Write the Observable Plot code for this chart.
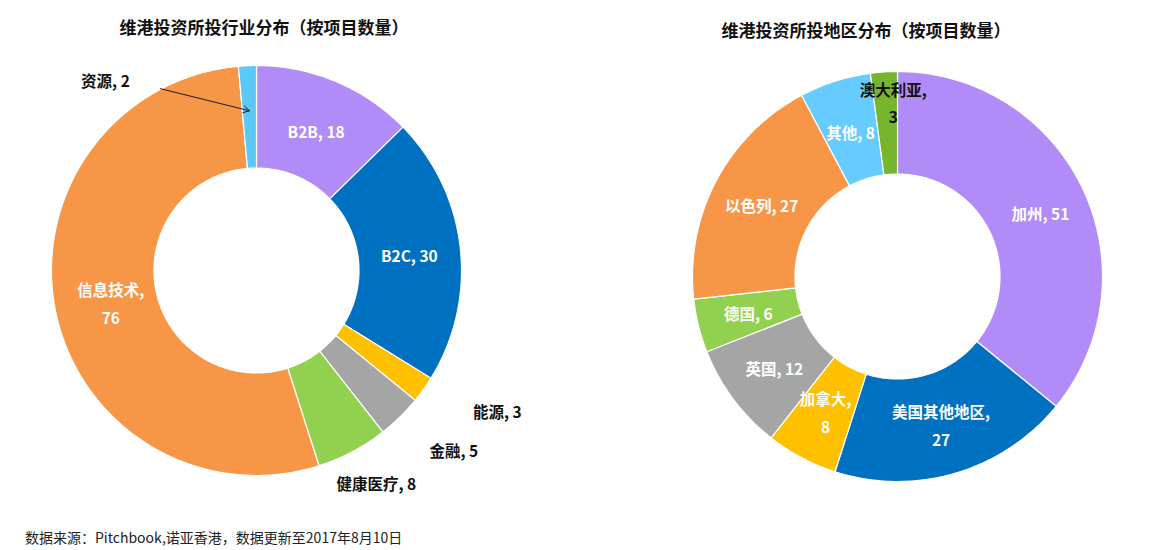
<!DOCTYPE html>
<html>
<head>
<meta charset="utf-8">
<script src="https://cdn.jsdelivr.net/npm/d3@7"></script>
<script src="https://cdn.jsdelivr.net/npm/@observablehq/plot@0.6"></script>
<style>
  body { margin: 0; background: #fff; }
  #page { position: relative; width: 1168px; height: 550px; overflow: hidden; font-family: "Noto Sans CJK SC", "Noto Sans", sans-serif; }
  .title { position: absolute; font-weight: bold; font-size: 17px; line-height: 20px; color: #111; white-space: nowrap; transform: translateX(-50%); }
  .caption { position: absolute; left: 25px; top: 528px; font-size: 14px; line-height: 18px; color: #222; white-space: nowrap; }
  .chart { position: absolute; top: 50px; width: 584px; height: 470px; }
</style>
</head>
<body>
<div id="page">
  <div class="title" style="left:264px; top:17px;">维港投资所投行业分布（按项目数量）</div>
  <div class="title" style="left:866px; top:20px;">维港投资所投地区分布（按项目数量）</div>
  <div class="chart" id="left" style="left:0px;"></div>
  <div class="chart" id="right" style="left:584px;"></div>
  <div class="caption">数据来源：Pitchbook,诺亚香港，数据更新至2017年8月10日</div>
</div>
<script>
// ---- data ----
const industryCats = ["B2B", "B2C", "能源", "金融", "健康医疗", "信息技术", "资源"];
const industryVals = [18, 30, 3, 5, 8, 76, 2];
const industryColors = ["#B18CF8", "#0070C0", "#FFC000", "#A5A5A5", "#92D050", "#F79646", "#5BC8F5"];

const regionCats = ["加州", "美国其他地区", "加拿大", "英国", "德国", "以色列", "其他", "澳大利亚"];
const regionVals = [51, 27, 8, 12, 6, 27, 8, 3];
const regionColors = ["#B18CF8", "#0070C0", "#FFC000", "#A5A5A5", "#92D050", "#F79646", "#66CCFF", "#77B52F"];

// ---- label layout (radius as fraction of outer radius, pixel nudges, colour, line break) ----
const industryLabelLayout = [
  {r: 0.75, dx: 0, dy: 0, dark: false, br: false},
  {r: 0.75, dx: 0, dy: 0, dark: false, br: false},
  {r: 1.0, dx: 74, dy: 20, dark: true, br: false},
  {r: 1.0, dx: 54, dy: 31, dark: true, br: false},
  {r: 1.0, dx: 24, dy: 30, dark: true, br: false},
  {r: 0.75, dx: 5, dy: 0, dark: false, br: true},
  {r: 1.0, dx: -142, dy: 13, dark: true, br: false, arrow: {sx: 55, sy: 10, r: 0.78}}
];
const regionLabelLayout = [
  {r: 0.75, dx: 4, dy: 0, dark: false, br: false},
  {r: 0.75, dx: 0, dy: -1, dark: false, br: true},
  {r: 0.75, dx: 0, dy: -2, dark: false, br: true},
  {r: 0.75, dx: 0, dy: -2, dark: false, br: false},
  {r: 0.75, dx: 0, dy: -2, dark: false, br: false},
  {r: 0.75, dx: 0, dy: -2, dark: false, br: false},
  {r: 0.75, dx: 0, dy: 0, dark: false, br: false},
  {r: 0.75, dx: 6, dy: -22, dark: true, br: true}
];

const R_PX = 205;       // outer radius in pixels (for converting nudges)
const INNER = 0.5;      // inner radius fraction

function donut(cats, vals, colors, layout, margins) {
  const pie = d3.pie().sort(null).value(d => d.v)(cats.map((c, i) => ({c, v: vals[i]})));
  const polys = [];
  pie.forEach(p => {
    const n = Math.max(2, Math.ceil((p.endAngle - p.startAngle) / (Math.PI / 180)));
    const pts = [];
    for (let k = 0; k <= n; k++) {
      const a = p.startAngle + (p.endAngle - p.startAngle) * k / n;
      pts.push({cat: p.data.c, x: Math.sin(a), y: Math.cos(a)});
    }
    for (let k = n; k >= 0; k--) {
      const a = p.startAngle + (p.endAngle - p.startAngle) * k / n;
      pts.push({cat: p.data.c, x: INNER * Math.sin(a), y: INNER * Math.cos(a)});
    }
    pts.push({...pts[0]});
    polys.push(...pts);
  });
  const labels = pie.map((p, i) => {
    const L = layout[i];
    const mid = (p.startAngle + p.endAngle) / 2;
    return {
      text: p.data.c + "," + (L.br ? "\n" : " ") + p.data.v,
      x: L.r * Math.sin(mid) + L.dx / R_PX,
      y: L.r * Math.cos(mid) - L.dy / R_PX,
      dark: L.dark,
      arrow: L.arrow ? {
        x1: L.r * Math.sin(mid) + (L.dx + L.arrow.sx) / R_PX,
        y1: L.r * Math.cos(mid) - (L.dy + L.arrow.sy) / R_PX,
        x2: L.arrow.r * Math.sin(mid),
        y2: L.arrow.r * Math.cos(mid)
      } : null
    };
  });
  const arrows = labels.filter(d => d.arrow).map(d => d.arrow);
  return Plot.plot({
    width: 584,
    height: 470,
    ...margins,
    x: {domain: [-1, 1], axis: null},
    y: {domain: [-1, 1], axis: null},
    color: {domain: cats, range: colors},
    style: {fontFamily: '"Noto Sans CJK SC", "Noto Sans", sans-serif', background: "transparent", overflow: "visible"},
    marks: [
      Plot.line(polys, {x: "x", y: "y", z: "cat", fill: "cat", stroke: "white", strokeWidth: 1.2, curve: "linear"}),
      Plot.text(labels.filter(d => !d.dark), {x: "x", y: "y", text: "text", fill: "white", fontSize: 15.5, fontWeight: "bold", lineHeight: 1.8}),
      Plot.text(labels.filter(d => d.dark), {x: "x", y: "y", text: "text", fill: "#111", fontSize: 15.5, fontWeight: "bold", lineHeight: 1.75}),
      Plot.arrow(arrows, {x1: "x1", y1: "y1", x2: "x2", y2: "y2", stroke: "#1a1a2e", strokeWidth: 1, headLength: 10, bend: false})
    ]
  });
}

document.getElementById("left").appendChild(
  donut(industryCats, industryVals, industryColors, industryLabelLayout,
    {marginLeft: 51, marginRight: 123, marginTop: 15, marginBottom: 45}));
document.getElementById("right").appendChild(
  donut(regionCats, regionVals, regionColors, regionLabelLayout,
    {marginLeft: 108, marginRight: 66, marginTop: 21, marginBottom: 39}));
</script>
</body>
</html>
